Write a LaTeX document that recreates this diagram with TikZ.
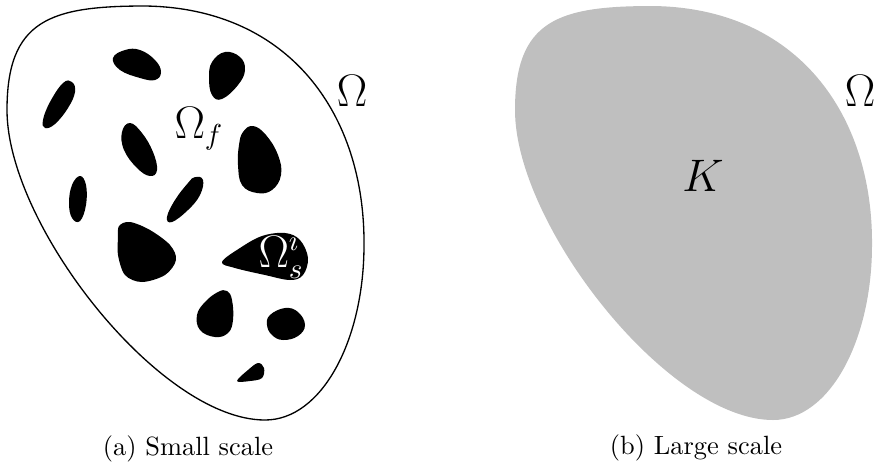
\documentclass[tikz,border=0pt]{standalone}
\begin{document}
\begin{tikzpicture}[x=0.3788pt,y=-0.3788pt,
  blob/.style={fill=black,draw=none},
  lab/.style={font=\fontsize{16}{19}\selectfont,inner sep=0pt,anchor=base},
  captxt/.style={font=\normalsize,inner sep=0pt,anchor=base}]
\useasboundingbox (0,0) rectangle (875,467);
\def\outlinepath{(145,6) .. controls (290,8) and (365,115) .. (364,245)
  .. controls (364,340) and (322,420) .. (265,420)
  .. controls (160,420) and (7,225) .. (7,110)
  .. controls (7,20) and (50,6) .. (145,6) -- cycle}
% (a) small scale
\draw[line width=0.5pt] \outlinepath;
\fill[blob] plot[smooth cycle,tension=0.7] coordinates {(113,58) (125,50) (140,50) (155,60) (161,72) (155,80) (140,78) (120,70)};
\fill[blob] plot[smooth cycle,tension=0.7] coordinates {(212,62) (225,52) (240,57) (245,70) (238,85) (222,99) (212,95) (209,78)};
\fill[blob] plot[smooth cycle,tension=0.7] coordinates {(63,83) (72,82) (75,92) (68,108) (55,124) (45,128) (43,120) (50,102)};
\fill[blob] plot[smooth cycle,tension=0.7] coordinates {(122,132) (130,123) (142,133) (153,152) (157,170) (150,176) (137,168) (124,150)};
\fill[blob] plot[smooth cycle,tension=0.7] coordinates {(243,132) (253,126) (266,135) (278,155) (281,175) (272,190) (257,193) (242,185) (238,165) (239,145)};
\fill[blob] plot[smooth cycle,tension=0.7] coordinates {(80,176) (86,185) (86,205) (80,221) (72,218) (69,203) (72,185)};
\fill[blob] plot[smooth cycle,tension=0.7] coordinates {(195,177) (203,180) (200,195) (188,210) (172,222) (167,217) (175,200) (188,183)};
\fill[blob] plot[smooth cycle,tension=0.55] coordinates {(119,226) (130,222) (150,230) (170,245) (176,260) (165,275) (142,282) (125,275) (118,255) (118,238)};
\fill[blob] plot[smooth cycle,tension=0.6] coordinates {(222,262) (240,248) (262,236) (285,233) (300,240) (308,258) (303,275) (290,280) (265,275) (235,268)};
\fill[blob] plot[smooth cycle,tension=0.7] coordinates {(227,291) (232,300) (233,320) (228,333) (215,337) (200,330) (197,315) (205,302) (218,292)};
\fill[blob] plot[smooth cycle,tension=0.7] coordinates {(270,315) (285,308) (298,312) (305,325) (298,336) (283,340) (272,335) (267,325)};
\fill[blob] plot[smooth cycle,tension=0.6] coordinates {(237,381) (248,370) (258,363) (264,368) (262,378) (250,381)};
\node[lab] (omA) at (352,106) {$\Omega$};
\node[lab,anchor=base west] (omf) at (174,138) {$\Omega_f$};
\node[lab,anchor=base west,text=white] (oms) at (258,267) {$\Omega_s^\imath$};
\node[captxt] (capa) at (188,455) {(a) Small scale};
% (b) large scale
\fill[black!25,shift={(508,0)}] \outlinepath;
\node[lab] (omB) at (860,106) {$\Omega$};
\node[lab] (K) at (703,191) {$K$};
\node[captxt] (capb) at (696,454) {(b) Large scale};
\end{tikzpicture}
\end{document}
